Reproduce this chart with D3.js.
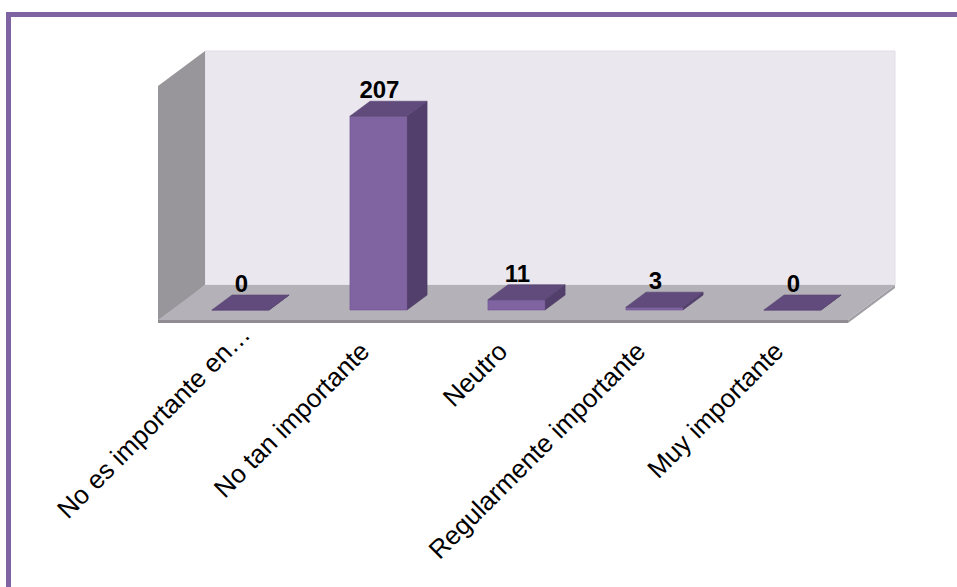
<!DOCTYPE html>
<html>
<head>
<meta charset="utf-8">
<script src="https://cdn.jsdelivr.net/npm/d3@7/dist/d3.min.js"></script>
<style>
  html, body { margin: 0; padding: 0; background: #ffffff; }
  svg { display: block; }
  text { font-family: "Liberation Sans", Arial, sans-serif; }
</style>
</head>
<body>
<svg id="chart" width="957" height="587"></svg>
<script>
// ---- data ----
const categories = ["No es importante en…", "No tan importante", "Neutro", "Regularmente importante", "Muy importante"];
const values = [0, 207, 11, 3, 0];
const axisDomain = [0, 250];

// ---- layout ----
const svg = d3.select("#chart");

const plotLeft = 158, plotRight = 848;
const depthX = 47, depthY = -35;         // 3D depth offset (back minus front)
const zFront = 10 / 35, zBack = 25 / 35; // bar position in depth

const x = d3.scaleBand().domain(categories).range([plotLeft, plotRight])
  .paddingInner(0.587).paddingOuter(0.2935);
const y = d3.scaleLinear().domain(axisDomain).range([320, 86]);

const P = (px, py, z) => [px + depthX * z, py + depthY * z];
const poly = pts => pts.map(p => p.join(",")).join(" ");

// outer frame
svg.append("rect")
  .attr("x", 8.5).attr("y", 14.5).attr("width", 1200).attr("height", 1200)
  .attr("fill", "none").attr("stroke", "#8064A2").attr("stroke-width", 5);

const y0 = y(axisDomain[0]), yMax = y(axisDomain[1]);

// back wall
svg.append("polygon")
  .attr("points", poly([P(plotLeft, yMax, 1), P(plotRight, yMax, 1), P(plotRight, y0, 1), P(plotLeft, y0, 1)]))
  .attr("fill", "#EAE7EF").attr("stroke", "#E0DDE4").attr("stroke-width", 1);

// left wall
svg.append("polygon")
  .attr("points", poly([P(plotLeft, yMax, 0), P(plotLeft, yMax, 1), P(plotLeft, y0, 1), P(plotLeft, y0 + 3, 0)]))
  .attr("fill", "#98969A");

// floor thickness
svg.append("polygon")
  .attr("points", poly([P(plotLeft, y0, 0), P(plotRight, y0, 0), P(plotRight, y0 + 3, 0), P(plotLeft, y0 + 3, 0)]))
  .attr("fill", "#8F8C93");
svg.append("polygon")
  .attr("points", poly([P(plotRight, y0, 0), P(plotRight, y0, 1), P(plotRight, y0 + 3, 1), P(plotRight, y0 + 3, 0)]))
  .attr("fill", "#A19EA5");
// floor top
svg.append("polygon")
  .attr("points", poly([P(plotLeft, y0, 0), P(plotRight, y0, 0), P(plotRight, y0, 1), P(plotLeft, y0, 1)]))
  .attr("fill", "#B5B1B8");

// bars
const bw = x.bandwidth();
const bars = svg.append("g");
categories.forEach((c, i) => {
  const v = values[i];
  const x0 = x(c), x1 = x0 + bw, yt = y(v);
  const g = bars.append("g");
  g.append("polygon")
    .attr("points", poly([P(x1, yt, zFront), P(x1, yt, zBack), P(x1, y0, zBack), P(x1, y0, zFront)]))
    .attr("fill", "#523F6B").attr("stroke", "#4A3962").attr("stroke-width", 0.6);
  g.append("polygon")
    .attr("points", poly([P(x0, yt, zFront), P(x1, yt, zFront), P(x1, y0, zFront), P(x0, y0, zFront)]))
    .attr("fill", "#8064A2").attr("stroke", "#6E5690").attr("stroke-width", 0.6);
  g.append("polygon")
    .attr("points", poly([P(x0, yt, zFront), P(x1, yt, zFront), P(x1, yt, zBack), P(x0, yt, zBack)]))
    .attr("fill", "#604B7C").attr("stroke", "#574571").attr("stroke-width", 0.6);

  // value label
  const lp = P(x0 + bw / 2, yt, zFront);
  const ly = P(0, yt, zBack)[1] - 3;
  svg.append("text")
    .attr("x", lp[0] + 1).attr("y", ly)
    .attr("text-anchor", "middle")
    .attr("font-size", 24).attr("font-weight", "bold").attr("fill", "#000")
    .text(v);
});

// category labels (rotated -45°)
categories.forEach((c, i) => {
  const cx = x(c) + bw / 2;
  let ax = cx + 6, ay = y0 + 33;
  if (c.endsWith("…")) { ax += 19; ay -= 17; } // truncated label sits further along its line
  svg.append("text")
    .attr("transform", `translate(${ax},${ay}) rotate(-45)`)
    .attr("text-anchor", "end")
    .attr("font-size", 26).attr("fill", "#000")
    .text(c);
});
</script>
</body>
</html>
